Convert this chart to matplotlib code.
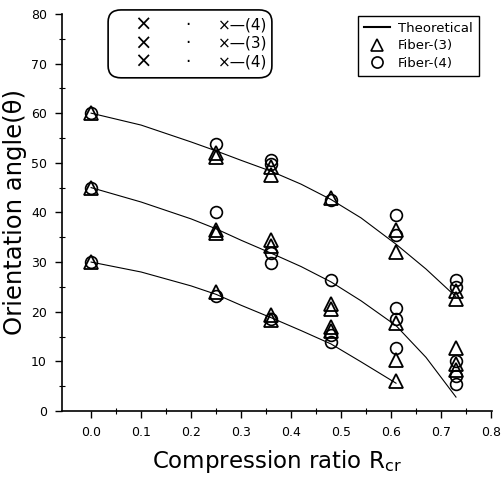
import matplotlib
matplotlib.use('Agg')
import matplotlib.pyplot as plt
from matplotlib.patches import FancyBboxPatch
from matplotlib.lines import Line2D

# theoretical curves
theo_x_top = [0.0, 0.1, 0.2, 0.25, 0.3, 0.36, 0.42, 0.48, 0.54, 0.61, 0.67, 0.73]
theo_y_top = [60.0, 57.6, 54.2, 52.4, 50.5, 48.3, 45.7, 42.6, 38.9, 33.6, 28.6, 23.0]
theo_x_mid = [0.0, 0.1, 0.2, 0.25, 0.3, 0.36, 0.42, 0.48, 0.54, 0.61, 0.67, 0.73]
theo_y_mid = [45.0, 42.1, 38.7, 36.7, 34.4, 31.8, 29.1, 26.0, 22.2, 17.2, 10.8, 2.8]
theo_x_bot = [0.0, 0.1, 0.2, 0.25, 0.3, 0.36, 0.42, 0.48, 0.54, 0.61]
theo_y_bot = [30.0, 28.0, 25.2, 23.5, 21.3, 18.8, 16.2, 13.5, 9.9, 5.6]

# Fiber-(3) triangles
tri_x = [0.0, 0.0, 0.0,
         0.25, 0.25, 0.25, 0.25, 0.25,
         0.36, 0.36, 0.36, 0.36, 0.36, 0.36,
         0.48, 0.48, 0.48, 0.48, 0.48,
         0.61, 0.61, 0.61, 0.61, 0.61,
         0.73, 0.73, 0.73, 0.73, 0.73]
tri_y = [60, 45, 30,
         52, 51.2, 36.5, 35.8, 24,
         49.2, 47.6, 34.5, 33.2, 19.4, 18.3,
         43, 21.6, 20.6, 17, 16.2,
         36.5, 32, 17.8, 10.3, 6,
         24.2, 22.5, 12.7, 9.5, 8.2]

# Fiber-(4) circles
cir_x = [0.0, 0.0, 0.0,
         0.25, 0.25, 0.25,
         0.36, 0.36, 0.36, 0.36, 0.36,
         0.48, 0.48, 0.48, 0.48,
         0.61, 0.61, 0.61, 0.61, 0.61,
         0.73, 0.73, 0.73, 0.73, 0.73]
cir_y = [60, 45, 30,
         53.8, 40, 23.2,
         50.5, 49.8, 31.8, 29.9, 18.5,
         42.6, 26.3, 15.3, 13.8,
         39.5, 35.5, 20.8, 18.6, 12.7,
         26.4, 25, 10, 7, 5.4]

box_rows = ['(4)', '(3)', '(4)']

fig = plt.figure(figsize=(5.01, 4.79), dpi=100)
ax = fig.add_axes([0.124, 0.142, 0.858, 0.829])

for xs, ys in [(theo_x_top, theo_y_top), (theo_x_mid, theo_y_mid), (theo_x_bot, theo_y_bot)]:
    ax.plot(xs, ys, color='black', lw=0.8)

ax.plot(cir_x, cir_y, ls='none', marker='o', ms=8.5, mfc='none', mec='black', mew=1.2)
ax.plot(tri_x, tri_y, ls='none', marker='^', ms=9.5, mfc='none', mec='black', mew=1.3)

ax.set_xlim(-0.058, 0.802)
ax.set_ylim(0, 80)
ax.set_xticks([0.0, 0.1, 0.2, 0.3, 0.4, 0.5, 0.6, 0.7, 0.8])
ax.set_xticks([0.05, 0.15, 0.25, 0.35, 0.45, 0.55, 0.65, 0.75], minor=True)
ax.set_yticks(range(0, 81, 10))
ax.set_yticks(range(5, 80, 10), minor=True)
ax.set_xticklabels(['0.0', '0.1', '0.2', '0.3', '0.4', '0.5', '0.6', '0.7', '0.8'])
ax.tick_params(which='major', direction='out', length=5, width=1, labelsize=9, pad=6)
ax.tick_params(which='minor', direction='inout', length=4, width=0.8)
ax.spines['top'].set_visible(False)
ax.spines['right'].set_visible(False)
ax.spines['left'].set_linewidth(1.2)
ax.spines['bottom'].set_linewidth(1.2)

ax.set_xlabel('Compression ratio R$_{\\rm cr}$', fontsize=16.5, labelpad=6)
ax.set_ylabel('Orientation angle(θ)', fontsize=17.5, labelpad=3)

# rounded box with fiber arrangement key
box = FancyBboxPatch((0.107, 0.839), 0.381, 0.171,
                     boxstyle='round,pad=0,rounding_size=0.03',
                     transform=ax.transAxes, fc='white', ec='black', lw=1.2, clip_on=False)
ax.add_patch(box)
for i, lab in enumerate(box_rows):
    yy = 0.972 - i * 0.046
    ax.text(0.188, yy, '×', transform=ax.transAxes, ha='center', va='center', fontsize=15)
    ax.text(0.293, yy, '·', transform=ax.transAxes, ha='center', va='center', fontsize=12)
    ax.text(0.362, yy, '×—' + lab, transform=ax.transAxes, ha='left', va='center', fontsize=11)

handles = [Line2D([], [], color='black', lw=1.5),
           Line2D([], [], ls='none', marker='^', ms=9, mfc='none', mec='black', mew=1.2),
           Line2D([], [], ls='none', marker='o', ms=8, mfc='none', mec='black', mew=1.2)]
ax.legend(handles, ['Theoretical', 'Fiber-(3)', 'Fiber-(4)'], loc='upper right',
          bbox_to_anchor=(0.985, 1.012), fancybox=False, edgecolor='black', fontsize=9.5,
          handlelength=2.0, handletextpad=0.6, borderpad=0.45, labelspacing=0.35,
          framealpha=1)

fig.savefig('out.png', dpi=100)
